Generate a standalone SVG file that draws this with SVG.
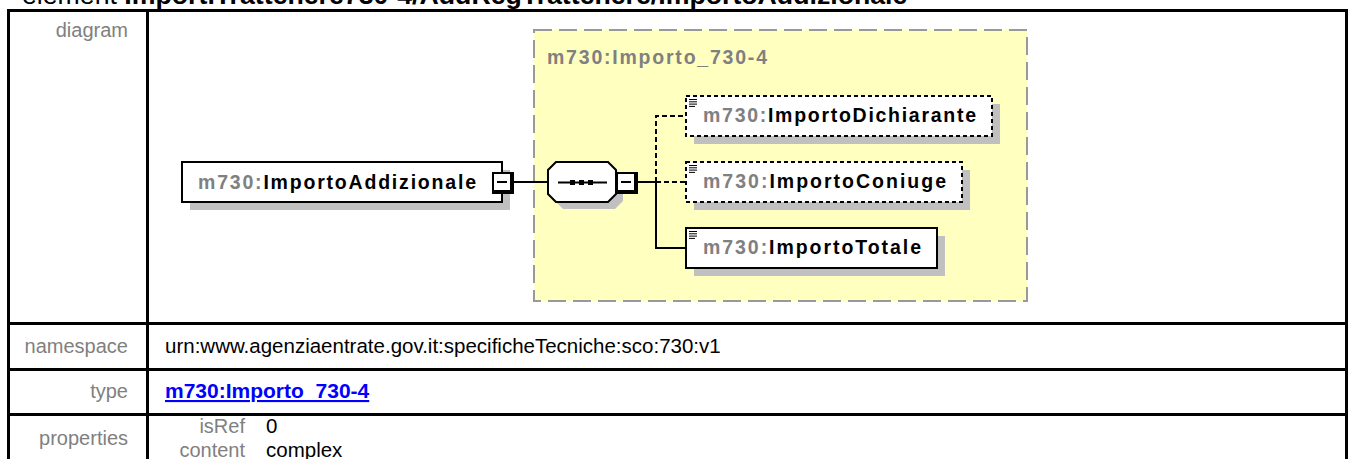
<svg xmlns="http://www.w3.org/2000/svg" width="1349" height="459" viewBox="0 0 1349 459">
<defs>
<style>
.tbl{stroke:#000;stroke-width:3;fill:none}
.lbl{font-family:"Liberation Sans",Arial,sans-serif;font-size:20px;fill:#808080}
.val{font-family:"Liberation Sans",Arial,sans-serif;font-size:20.5px;fill:#000}
.b{font-family:"Liberation Sans",Arial,sans-serif;font-size:19.5px;font-weight:bold}
.ns{fill:#808080}
.nm{fill:#000}
.shadow{fill:#c0c0c0;stroke:none}
.box{fill:#fff;stroke:#000;stroke-width:2}
.opt{stroke-dasharray:4 3}
.conn{stroke:#000;stroke-width:2;fill:none}
.dash{stroke-dasharray:5 3}
.icon{stroke:#000;stroke-width:1;fill:none}
</style>
</defs>
<rect width="1349" height="459" fill="#fff"/>
<text x="22" y="4" font-family="Liberation Sans, Arial, sans-serif" font-size="26.7" fill="#000">element <tspan font-weight="bold">ImportiTrattenere730-4/AddRegTrattenere/ImportoAddizionale</tspan></text>
<g id="table">
<path class="tbl" d="M8.5 10.5H1346.5M8.5 9V459M1346.5 9V459M147.5 10V459M8 323.5H1347M8 369.5H1347M8 414.5H1347"/>
<text class="lbl" x="128" y="37" text-anchor="end">diagram</text>
<text class="lbl" x="128" y="353" text-anchor="end">namespace</text>
<text class="val" x="165" y="353">urn:www.agenziaentrate.gov.it:specificheTecniche:sco:730:v1</text>
<text class="lbl" x="128" y="398" text-anchor="end">type</text>
<text x="165" y="398" font-family="Liberation Sans, Arial, sans-serif" font-size="21" font-weight="bold" fill="#0000ff" text-decoration="underline">m730:Importo_730-4</text>
<text class="lbl" x="128" y="445" text-anchor="end">properties</text>
<text class="lbl" x="245" y="433" text-anchor="end">isRef</text>
<text class="val" x="266" y="433">0</text>
<text class="lbl" x="245" y="457" text-anchor="end">content</text>
<text class="val" x="266" y="457">complex</text>
</g>
<g id="complexType">
<rect x="534" y="30" width="493" height="271" fill="#ffffc0" stroke="#999" stroke-width="2" stroke-dasharray="18 7"/>
<text class="b ns" x="547" y="64" textLength="220">m730:Importo_730-4</text>
</g>
<g id="connectors">
<path class="conn" d="M514 182H548M638 182H656M656 182V248H686"/>
<path class="conn dash" d="M656 182V116H686M656 182H686"/>
</g>
<g id="ImportoAddizionale">
<rect class="shadow" x="190" y="170" width="320" height="40"/>
<rect class="box" x="182" y="162" width="320" height="40"/>
<text class="b" x="198" y="189" textLength="278"><tspan class="ns">m730:</tspan><tspan class="nm">ImportoAddizionale</tspan></text>
<rect x="492" y="172" width="22" height="22" fill="#000"/>
<rect x="494" y="174" width="16" height="16" fill="#fff"/>
<path class="conn" d="M497 182H507"/>
</g>
<g id="sequence">
<polygon class="shadow" points="563,169 615,169 623,177 623,201 615,209 563,209 555,201 555,177"/>
<polygon class="box" points="556,162 608,162 616,170 616,194 608,202 556,202 548,194 548,170"/>
<path class="conn" d="M558 182.5H607"/>
<rect x="570" y="180" width="5" height="5" fill="#000"/>
<rect x="579" y="180" width="5" height="5" fill="#000"/>
<rect x="588" y="180" width="5" height="5" fill="#000"/>
<rect x="616" y="172" width="22" height="22" fill="#000"/>
<rect x="618" y="174" width="16" height="16" fill="#fff"/>
<path class="conn" d="M621 182H631"/>
</g>
<g id="ImportoDichiarante">
<rect class="shadow" x="694" y="104" width="306" height="40"/>
<rect class="box opt" x="686" y="96" width="306" height="40"/>
<path class="icon" d="M689 99.5h8M689 101.8h8M689 104.1h8M689 106.4h6"/>
<text class="b" x="703" y="122" textLength="273"><tspan class="ns">m730:</tspan><tspan class="nm">ImportoDichiarante</tspan></text>
</g>
<g id="ImportoConiuge">
<rect class="shadow" x="694" y="170" width="276" height="40"/>
<rect class="box opt" x="686" y="162" width="276" height="40"/>
<path class="icon" d="M689 165.5h8M689 167.8h8M689 170.1h8M689 172.4h6"/>
<text class="b" x="703" y="188" textLength="243"><tspan class="ns">m730:</tspan><tspan class="nm">ImportoConiuge</tspan></text>
</g>
<g id="ImportoTotale">
<rect class="shadow" x="694" y="236" width="251" height="40"/>
<rect class="box" x="686" y="228" width="251" height="40"/>
<path class="icon" d="M689 231.5h8M689 233.8h8M689 236.1h8M689 238.4h6"/>
<text class="b" x="703" y="254" textLength="218"><tspan class="ns">m730:</tspan><tspan class="nm">ImportoTotale</tspan></text>
</g>
</svg>
